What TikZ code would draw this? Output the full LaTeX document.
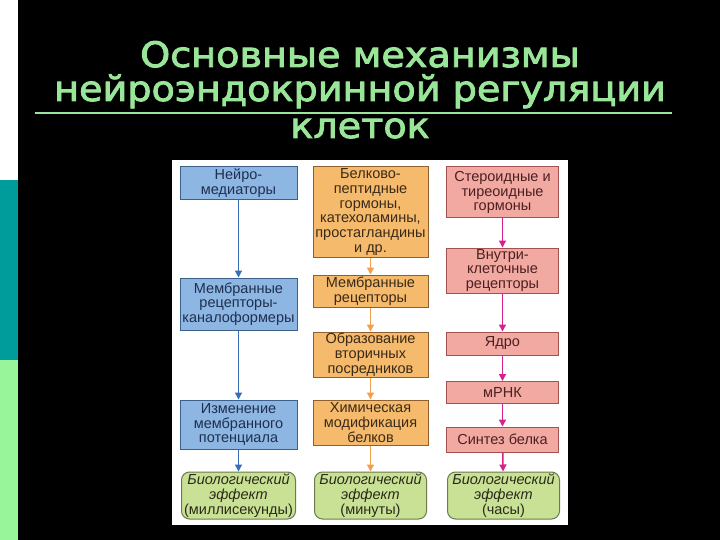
\documentclass[tikz,border=0pt]{standalone}
\usepackage{fontspec}
\setmainfont{Liberation Sans}
\newfontfamily\titlefont[FakeBold=2.5,FakeStretch=1.09]{DejaVu Sans}
\usetikzlibrary{arrows.meta}
\definecolor{titlegreen}{HTML}{99E699}
\definecolor{stripteal}{HTML}{009B9B}
\definecolor{stripgreen}{HTML}{99F599}
\definecolor{bluefill}{HTML}{8DB6E2}
\definecolor{blueline}{HTML}{3D5F8C}
\definecolor{bluearrow}{HTML}{3A6DB5}
\definecolor{bluetext}{HTML}{1E2F4F}
\definecolor{orangefill}{HTML}{F5BA6C}
\definecolor{orangeline}{HTML}{8F5F2E}
\definecolor{orangearrow}{HTML}{F0A050}
\definecolor{orangetext}{HTML}{3A2A18}
\definecolor{pinkfill}{HTML}{F2A9A2}
\definecolor{pinkline}{HTML}{A35252}
\definecolor{pinkarrow}{HTML}{D6208C}
\definecolor{pinktext}{HTML}{4A2020}
\definecolor{greenfill}{HTML}{C9E194}
\definecolor{greenline}{HTML}{6B7B4B}
\definecolor{greentext}{HTML}{2A2A1A}
\tikzset{
  boxbase/.style={rectangle, draw, line width=1pt, align=center, inner sep=0pt,
    font=\fontsize{14.5}{14.8}\selectfont},
  bluebox/.style={boxbase, fill=bluefill, draw=blueline, text=bluetext, minimum width=117pt},
  orangebox/.style={boxbase, fill=orangefill, draw=orangeline, text=orangetext, minimum width=115pt},
  pinkbox/.style={boxbase, fill=pinkfill, draw=pinkline, text=pinktext, minimum width=112pt},
  effbox/.style={boxbase, rounded corners=8pt, fill=greenfill, draw=greenline, text=greentext, minimum height=47pt},
  conn/.style={line width=1.5pt, -{Triangle[width=7pt,length=7pt]}},
  bluearr/.style={conn, draw=bluearrow, fill=bluearrow},
  orangearr/.style={conn, draw=orangearrow, fill=orangearrow},
  pinkarr/.style={conn, draw=pinkarrow, fill=pinkarrow},
  titletext/.style={anchor=base, text=titlegreen, inner sep=0pt, align=center,
    font=\titlefont\fontsize{35}{34}\selectfont}
}
\begin{document}
\begin{tikzpicture}[x=1pt,y=-1pt]
\useasboundingbox (0,0) rectangle (720,540);
% background
\fill[black] (0,0) rectangle (720,540);
\fill[white] (0,0) rectangle (18,180);
\fill[stripteal] (0,180) rectangle (18,360);
\fill[stripgreen] (0,360) rectangle (18,540);
% title
\node[titletext] (title) at (360,138) {Основные механизмы\\нейроэндокринной регуляции\\[3pt]клеток};
\draw[titlegreen, line width=2pt] (35,113) -- (672,113);
% panel
\fill[white] (172,160) rectangle (568,525);
% column 1
\node[bluebox, minimum height=33pt] (a1) at (238.5,183.5) {Нейро-\\медиаторы};
\node[bluebox, minimum height=52pt] (a2) at (238.5,304) {Мембранные\\рецепторы-\\каналоформеры};
\node[bluebox, minimum height=49pt] (a3) at (238.5,424.5) {Изменение\\мембранного\\потенциала};
\node[effbox, minimum width=114pt] (a4) at (238.5,495.5) {\itshape Биологический\\\itshape эффект\\(миллисекунды)};
\draw[bluearr] (a1) -- (a2);
\draw[bluearr] (a2) -- (a3);
\draw[bluearr] (a3) -- (a4);
% column 2
\node[orangebox, minimum height=90pt] (b1) at (370.5,212) {Белково-\\пептидные\\гормоны,\\катехоламины,\\простагландины\\и др.};
\node[orangebox, minimum height=32pt] (b2) at (370.5,291) {Мембранные\\рецепторы};
\node[orangebox, minimum height=45pt] (b3) at (370.5,354.5) {Образование\\вторичных\\посредников};
\node[orangebox, minimum height=45pt] (b4) at (370.5,422.5) {Химическая\\модификация\\белков};
\node[effbox, minimum width=112pt] (b5) at (370.5,495.5) {\itshape Биологический\\\itshape эффект\\(минуты)};
\draw[orangearr] (b1) -- (b2);
\draw[orangearr] (b2) -- (b3);
\draw[orangearr] (b3) -- (b4);
\draw[orangearr] (b4) -- (b5);
% column 3
\node[pinkbox, minimum height=51pt] (c1) at (502.5,192.5) {Стероидные и\\тиреоидные\\гормоны};
\node[pinkbox, minimum height=45pt] (c2) at (502.5,270.5) {Внутри-\\клеточные\\рецепторы};
\node[pinkbox, minimum height=23pt] (c3) at (502.5,343.5) {Ядро};
\node[pinkbox, minimum height=22pt] (c4) at (502.5,392.5) {мРНК};
\node[pinkbox, minimum height=25pt] (c5) at (502.5,439.5) {Синтез белка};
\node[effbox, minimum width=112pt] (c6) at (503.5,495.5) {\itshape Биологический\\\itshape эффект\\(часы)};
\draw[pinkarr] (c1) -- (c2);
\draw[pinkarr] (c2) -- (c3);
\draw[pinkarr] (c3) -- (c4);
\draw[pinkarr] (c4) -- (c5);
\draw[pinkarr] (c5) -- (c6);
\end{tikzpicture}
\end{document}
